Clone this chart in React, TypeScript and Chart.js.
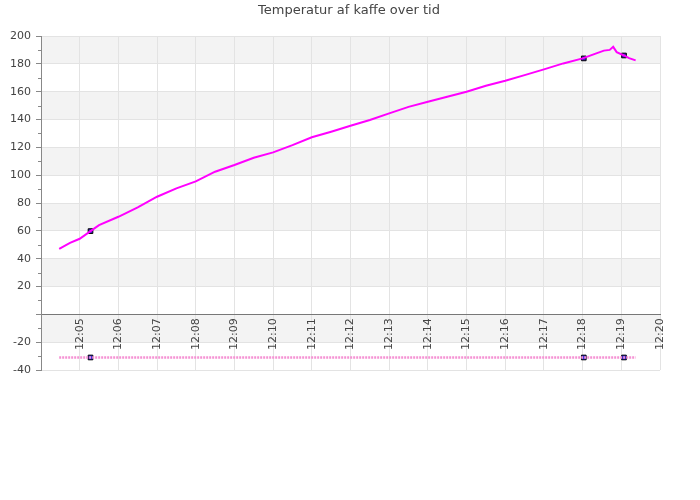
import React, { useEffect, useRef } from "react";
import { Chart, registerables } from "chart.js";

Chart.register(...registerables);

// minutes after 12:00
const times = [4.47, 4.75, 5.0, 5.28, 5.5, 6.0, 6.5, 7.0, 7.5, 8.0, 8.5, 9.0, 9.5, 10.0, 10.5, 11.0, 11.5, 12.0, 12.5, 13.0, 13.5, 14.0, 14.5, 15.0, 15.5, 16.0, 16.5, 17.0, 17.5, 18.0, 18.3, 18.55, 18.7, 18.79, 18.88, 19.07, 19.2, 19.37];
const temps = [47.1, 51.4, 54.3, 59.8, 64.1, 70.1, 76.9, 84.5, 90.5, 95.5, 102.5, 107.3, 112.5, 116.4, 121.6, 127.2, 131.2, 135.5, 139.6, 144.4, 149.1, 152.7, 156.3, 159.9, 164.2, 167.8, 171.9, 176.0, 180.3, 183.9, 187.0, 189.5, 190.0, 192.2, 188.4, 186.0, 184.1, 182.5];

const markerTimes = [5.28, 18.03, 19.07];
const markerTemps = [59.8, 183.9, 186.0];

const bottomTimes = [4.47, 19.37];
const bottomValues = [-31, -31];
const bottomMarkerValues = [-31, -31, -31];

const yBands = [[180, 200], [140, 160], [100, 120], [60, 80], [20, 40], [-20, 0]];
const minorTicks = [190, 170, 150, 130, 110, 90, 70, 50, 30, 10, -10, -30];

const title = "Temperatur af kaffe over tid";

export default function App() {
  const ref = useRef<HTMLCanvasElement>(null);
  useEffect(() => {
    if (!ref.current) return;
    Chart.defaults.font.family = "'DejaVu Sans'";
    Chart.defaults.font.size = 11;
    const bandsPlugin = {
      id: "bands",
      beforeDraw(chart: any) {
        const { ctx, chartArea, scales } = chart;
        const y = scales.y;
        ctx.save();
        ctx.fillStyle = "#ffffff";
        ctx.fillRect(0, 0, chart.width, chart.height);
        ctx.fillStyle = "#f3f3f3";
        for (const [a, b] of yBands) {
          const y1 = y.getPixelForValue(b);
          const y2 = y.getPixelForValue(a);
          ctx.fillRect(chartArea.left, y1, chartArea.right - chartArea.left, y2 - y1);
        }
        ctx.restore();
      },
      afterDraw(chart: any) {
        const { ctx, chartArea, scales } = chart;
        const y = scales.y;
        ctx.save();
        ctx.strokeStyle = "#888";
        ctx.lineWidth = 1;
        for (const v of minorTicks) {
          const py = Math.round(y.getPixelForValue(v)) + 0.5;
          ctx.beginPath();
          ctx.moveTo(chartArea.left - 3, py);
          ctx.lineTo(chartArea.left, py);
          ctx.stroke();
        }
        ctx.fillStyle = "#444";
        ctx.font = "13px 'DejaVu Sans'";
        ctx.textAlign = "center";
        ctx.textBaseline = "middle";
        ctx.fillText(title, 349, 11);
        ctx.restore();
      },
    };
    const chart = new Chart(ref.current, {
      type: "line",
      data: {
        datasets: [
          {
            data: bottomTimes.map((t, i) => ({ x: t, y: bottomValues[i] })),
            borderColor: "#f592d4",
            borderWidth: 2.5,
            borderDash: [2, 1],
            pointRadius: 0,
          },
          {
            data: times.map((t, i) => ({ x: t, y: temps[i] })),
            borderColor: "#ff00ff",
            borderWidth: 2,
            pointRadius: 0,
            tension: 0,
          },
          {
            data: markerTimes.map((t, i) => ({ x: t, y: markerTemps[i] })),
            showLine: false,
            pointStyle: "rect",
            pointRadius: 3.3,
            backgroundColor: "#3b1fc0",
            borderColor: "#000",
            borderWidth: 1,
          },
          {
            data: markerTimes.map((t, i) => ({ x: t, y: bottomMarkerValues[i] })),
            showLine: false,
            pointStyle: "rect",
            pointRadius: 3.3,
            backgroundColor: "#2020e0",
            borderColor: "#000",
            borderWidth: 1,
          },
        ],
      },
      options: {
        responsive: false,
        animation: false,
        layout: { padding: { top: 36, bottom: 130, left: 0, right: 40 } },
        plugins: { legend: { display: false }, tooltip: { enabled: false }, title: { display: false } },
        scales: {
          x: {
            type: "linear",
            position: { y: 0 } as any,
            min: 4,
            max: 20,
            grid: { color: "#e3e3e3", drawTicks: false },
            border: { color: "#777", width: 1 },
            ticks: {
              stepSize: 1,
              color: "#444",
              minRotation: 90,
              maxRotation: 90,
              autoSkip: false,
              padding: 4,
              callback: (v: any) => (v === 4 ? "" : "12:" + String(v).padStart(2, "0")),
            },
          },
          y: {
            min: -40,
            max: 200,
            afterFit: (s: any) => {
              s.width = 41;
            },
            grid: { color: "#e3e3e3", tickColor: "#888", tickLength: 5 },
            border: { color: "#888" },
            ticks: {
              stepSize: 20,
              color: "#444",
              padding: 5,
              callback: (v: any) => (v === 0 ? "" : String(v)),
            },
          },
        },
      },
      plugins: [bandsPlugin],
    } as any);
    return () => chart.destroy();
  }, []);
  return (
    <div style={{ position: "absolute", left: 0, top: 0, width: 700, height: 500 }}>
      <canvas ref={ref} width={700} height={500} style={{ display: "block" }} />
    </div>
  );
}
